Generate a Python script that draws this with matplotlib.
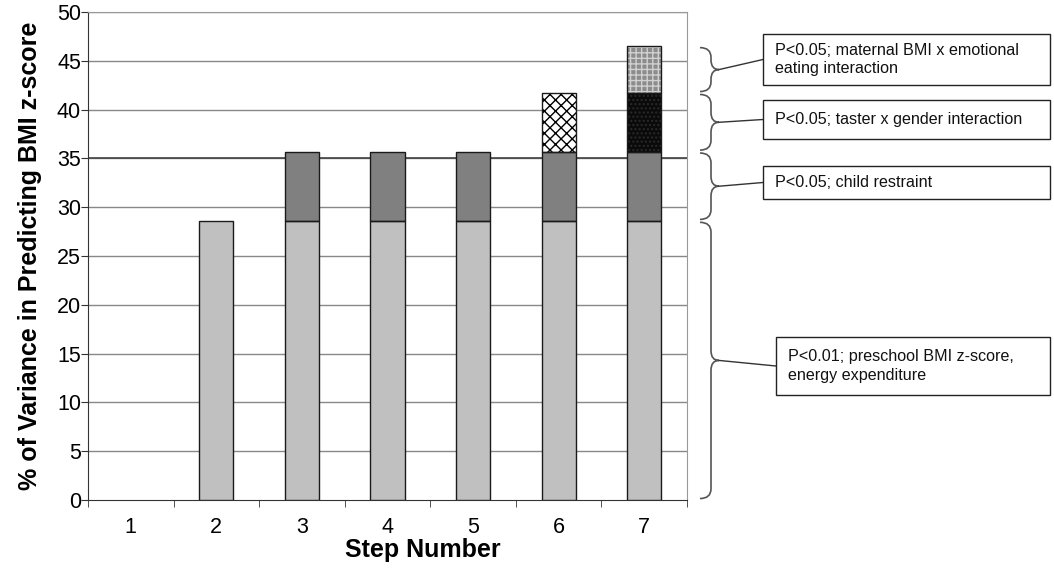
import matplotlib
matplotlib.use("Agg")
import matplotlib.pyplot as plt
import matplotlib.transforms as mtransforms
from matplotlib.path import Path
from matplotlib.patches import PathPatch, Rectangle
import numpy as np

plt.rcParams['font.family'] = ['Liberation Sans', 'DejaVu Sans']

steps = [1, 2, 3, 4, 5, 6, 7]
step_labels = ['1', '2', '3', '4', '5', '6', '7']
base = [0, 28.6, 28.6, 28.6, 28.6, 28.6, 28.6]
restraint = [0, 0, 7.1, 7.1, 7.1, 7.1, 7.1]
taster = [0, 0, 0, 0, 0, 6.0, 6.0]
maternal = [0, 0, 0, 0, 0, 0, 4.8]
y_ticks = [0, 5, 10, 15, 20, 25, 30, 35, 40, 45, 50]

notes = [
    "P<0.01; preschool BMI z-score,\nenergy expenditure",
    "P<0.05; child restraint",
    "P<0.05; taster x gender interaction",
    "P<0.05; maternal BMI x emotional\neating interaction",
]

W, H = 1054, 568
fig = plt.figure(figsize=(W / 100, H / 100), dpi=100)
ax = fig.add_axes([88 / W, 1 - 500 / H, (687 - 88) / W, (500 - 12) / H])

x = np.array(steps, dtype=float)
bw = 0.4
base_a = np.array(base)
res_a = np.array(restraint)
tas_a = np.array(taster)
mat_a = np.array(maternal)

def draw_bar(xs, h, b, fc, hatch=None, hatch_col=None):
    m = h > 0
    if not m.any():
        return
    ax.bar(xs[m], h[m], bw, bottom=b[m], color=fc, edgecolor='none', linewidth=0, zorder=3)
    if hatch:
        ax.bar(xs[m], h[m], bw, bottom=b[m], fill=False, hatch=hatch,
               edgecolor=hatch_col, linewidth=0, zorder=4)
    ax.bar(xs[m], h[m], bw, bottom=b[m], fill=False, edgecolor='#1a1a1a', linewidth=1.0, zorder=5)

draw_bar(x, base_a, np.zeros(7), '#c0c0c0')
draw_bar(x, res_a, base_a, '#808080')
# taster term: patterned white at step 6, dark at step 7
b2 = base_a + res_a
m6 = np.array([s == 6 for s in steps])
draw_bar(x[m6], tas_a[m6], b2[m6], 'white', hatch='xxx', hatch_col='black')
draw_bar(x[~m6], tas_a[~m6], b2[~m6], '#0a0a0a', hatch='....', hatch_col='#2a2a2a')
b3 = b2 + tas_a
draw_bar(x, mat_a, b3, '#8c8c8c', hatch='+++', hatch_col='#d0d0d0')

ax.set_xlim(0.5, 7.5)
ax.set_ylim(0, 50)
ax.set_yticks(y_ticks)
ax.set_yticklabels([str(v) for v in y_ticks], fontsize=15.5)
ax.set_xticks(steps)
ax.set_xticklabels(step_labels, fontsize=15.5)
ax.set_xticks(np.arange(0.5, 8.0, 1.0), minor=True)
ax.tick_params(axis='x', which='major', length=0, pad=12)
ax.tick_params(axis='x', which='minor', length=5, direction='out', color='#333333')
ax.tick_params(axis='y', length=5, direction='out', pad=0, color='#333333')
for v in y_ticks[1:]:
    ax.axhline(v, color='#888888', lw=1.0, zorder=1)
ax.axhline(35, color='#444444', lw=1.2, zorder=1)
ax.spines['left'].set_color('#333333')
ax.spines['bottom'].set_color('#333333')
ax.spines['top'].set_color('#999999')
ax.spines['right'].set_color('#999999')
ax.set_xlabel('Step Number', fontsize=18, fontweight='bold', labelpad=0)
ax.xaxis.set_label_coords((423 - 88) / 599, -0.078)
ax.set_ylabel('% of Variance in Predicting BMI z-score', fontsize=18, fontweight='bold', labelpad=11)

# braces
blend = mtransforms.blended_transform_factory(ax.transAxes, ax.transData)
px = 1.0 / (687 - 88)
xl = 1 + (700 - 687) * px
xm = 1 + (711 - 687) * px
xt = 1 + (719 - 687) * px

def brace(y0, y1):
    ym = (y0 + y1) / 2
    r = 1.0
    verts = [(xl, y0), (xm, y0), (xm, y0 + r),
             (xm, ym - r), (xm, ym), (xt, ym),
             (xm, ym), (xm, ym + r),
             (xm, y1 - r), (xm, y1), (xl, y1)]
    codes = [Path.MOVETO, Path.CURVE3, Path.CURVE3,
             Path.LINETO, Path.CURVE3, Path.CURVE3,
             Path.CURVE3, Path.CURVE3,
             Path.LINETO, Path.CURVE3, Path.CURVE3]
    p = PathPatch(Path(verts, codes), transform=blend, fill=False,
                  edgecolor='#555555', lw=1.2, clip_on=False)
    ax.add_patch(p)
    return ym

tops = np.cumsum([base[-1], restraint[-1], taster[-1], maternal[-1]])
lows = np.concatenate([[0], tops[:-1]])

boxes = [  # x0, y0, x1, y1 in pixels (top-left origin)
    (776, 337, 1050, 395),
    (763, 166, 1050, 199),
    (763, 100, 1050, 139),
    (763, 34, 1050, 85),
]
for (lo, hi, note, (bx0, by0, bx1, by1)) in zip(lows, tops, notes, boxes):
    ym = brace(lo + 0.15, hi - 0.15)
    fx0, fx1 = bx0 / W, bx1 / W
    fy0, fy1 = 1 - by1 / H, 1 - by0 / H
    fig.add_artist(Rectangle((fx0, fy0), fx1 - fx0, fy1 - fy0, transform=fig.transFigure,
                             fill=False, edgecolor='#222222', lw=1.0))
    fig.text(fx0 + 12 / W, (fy0 + fy1) / 2, note, fontsize=11.6, va='center', ha='left',
             linespacing=1.3, color='#111111')
    ax.annotate('', xy=(xt, ym), xycoords=blend, xytext=(fx0, (fy0 + fy1) / 2),
                textcoords='figure fraction',
                arrowprops=dict(arrowstyle='-', color='#333333', lw=1.0,
                                shrinkA=0, shrinkB=0), annotation_clip=False)

fig.savefig('out.png', dpi=100)
